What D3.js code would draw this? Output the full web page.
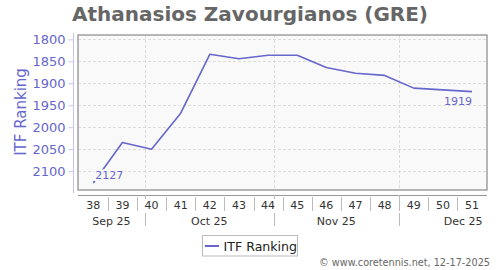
<!DOCTYPE html>
<html>
<head>
<meta charset="utf-8">
<script src="https://cdn.jsdelivr.net/npm/d3@7"></script>
<style>
  html, body { margin: 0; padding: 0; background: #fff; }
  svg { display: block; font-family: "DejaVu Sans", Verdana, sans-serif; }
</style>
</head>
<body>
<svg id="chart" width="500" height="270"></svg>
<script>
const title = "Athanasios Zavourgianos (GRE)";
const seriesName = "ITF Ranking";
const weeks = [38, 39, 40, 41, 42, 43, 44, 45, 46, 47, 48, 49, 50, 51];
const ranks = [2127, 2035, 2050, 1968, 1834, 1844, 1836, 1836, 1864, 1877, 1882, 1911, 1915, 1919];
const yTicks = [1800, 1850, 1900, 1950, 2000, 2050, 2100];
const yDomain = [1790, 2143];
const months = ["2025-09-01", "2025-10-01", "2025-11-01", "2025-12-01", "2026-01-01"];
const monthLabels = ["Sep 25", "Oct 25", "Nov 25", "Dec 25"];
const credit = "\u00a9 www.coretennis.net, 12-17-2025";
const year = 2025;

const blue = "#6666cc";
const svg = d3.select("#chart");

// ISO week -> point date (Thursday of ISO week, mid-afternoon)
const parse = d3.utcParse("%Y-%m-%d");
const thu1 = new Date(Date.UTC(year, 0, 2, 15));
const weekDate = w => d3.utcDay.offset(thu1, 7 * (w - 1));
const data = weeks.map((w, i) => ({ w, d: weekDate(w), v: ranks[i] }));
const monthDates = months.map(parse);

const plot = { left: 78, right: 487, top: 35, bottom: 190 };
const halfWeek = 3.5 * 864e5;
const x = d3.scaleUtc()
  .domain([new Date(+data[0].d - halfWeek), new Date(+data[data.length - 1].d + halfWeek)])
  .range([plot.left + 0.7, plot.right - 0.4]);
const y = d3.scaleLinear().domain(yDomain).range([plot.top, plot.bottom]);

// title
svg.append("text").attr("x", 250).attr("y", 21).attr("text-anchor", "middle")
  .attr("font-size", 20).attr("font-weight", "bold").attr("fill", "#666")
  .text(title);

// plot background
svg.append("rect").attr("x", plot.left).attr("y", plot.top)
  .attr("width", plot.right - plot.left).attr("height", plot.bottom - plot.top)
  .attr("fill", "#f9f9f9");

// horizontal grid
svg.append("g").selectAll("line").data(yTicks).join("line")
  .attr("x1", plot.left).attr("x2", plot.right)
  .attr("y1", d => Math.round(y(d)) + 0.5).attr("y2", d => Math.round(y(d)) + 0.5)
  .attr("stroke", "#dcdcdc").attr("stroke-dasharray", "3,2");

// vertical grid at month starts
const [d0, d1] = x.domain();
const innerMonths = monthDates.filter(d => d > d0 && d < d1);
svg.append("g").selectAll("line").data(innerMonths).join("line")
  .attr("x1", d => Math.round(x(d)) + 0.5).attr("x2", d => Math.round(x(d)) + 0.5)
  .attr("y1", plot.top).attr("y2", plot.bottom)
  .attr("stroke", "#dcdcdc").attr("stroke-dasharray", "3,2");

// plot border
svg.append("rect").attr("x", plot.left).attr("y", plot.top)
  .attr("width", plot.right - plot.left).attr("height", plot.bottom - plot.top)
  .attr("fill", "none").attr("stroke", "#888").attr("stroke-width", 1.2);

// y axis
const yAxis = d3.axisLeft(y).tickValues(yTicks).tickSize(5).tickPadding(3).tickFormat(d3.format("d"));
const gy = svg.append("g").attr("transform", "translate(73.5,0)").call(yAxis);
gy.select(".domain").attr("stroke", "#c4c4ec").attr("d", `M0,${plot.top - 2}V${plot.bottom + 3}`);
gy.selectAll(".tick line").attr("stroke", "#c4c4ec");
gy.selectAll(".tick text").attr("fill", blue).attr("font-size", 13)
  .attr("font-family", "DejaVu Sans, sans-serif");

svg.append("text").attr("transform", "translate(26,112) rotate(-90)")
  .attr("text-anchor", "middle").attr("font-size", 15).attr("fill", blue)
  .text(seriesName);

// x axis line
svg.append("line").attr("x1", plot.left).attr("x2", plot.right)
  .attr("y1", 195.5).attr("y2", 195.5).attr("stroke", "#999").attr("stroke-width", 1);

// week labels
const gx = svg.append("g");
gx.selectAll("text.wk").data(data).join("text").attr("class", "wk")
  .attr("x", d => x(d.d)).attr("y", 208.5).attr("text-anchor", "middle")
  .attr("font-size", 11).attr("fill", "#333").text(d => d.w);
// week separators
const seps = data.slice(1).map((d, i) => new Date((+d.d + +data[i].d) / 2));
gx.selectAll("line.sep").data(seps).join("line").attr("class", "sep")
  .attr("x1", d => Math.round(x(d)) + 0.5).attr("x2", d => Math.round(x(d)) + 0.5)
  .attr("y1", 197).attr("y2", 211).attr("stroke", "#bbb");
// month ticks and separators
gx.selectAll("line.mt").data(innerMonths).join("line").attr("class", "mt")
  .attr("x1", d => Math.round(x(d)) + 0.5).attr("x2", d => Math.round(x(d)) + 0.5)
  .attr("y1", 195).attr("y2", 199).attr("stroke", "#bbb");
gx.selectAll("line.ms").data(innerMonths).join("line").attr("class", "ms")
  .attr("x1", d => Math.round(x(d)) + 0.5).attr("x2", d => Math.round(x(d)) + 0.5)
  .attr("y1", 213).attr("y2", 226).attr("stroke", "#bbb");
// month labels
const mInfo = monthLabels.map((lab, i) => {
  const a = monthDates[i], b = monthDates[i + 1];
  const full = (x(a) + x(b)) / 2;
  const vis = (Math.max(x(a), plot.left) + Math.min(x(b), plot.right)) / 2;
  const halfW = 17;
  const c = (full - halfW >= plot.left && full + halfW <= plot.right) ? full : vis;
  return { lab, c };
});
gx.selectAll("text.mo").data(mInfo).join("text").attr("class", "mo")
  .attr("x", d => d.c).attr("y", 224.5).attr("text-anchor", "middle")
  .attr("font-size", 11).attr("fill", "#333").text(d => d.lab);

// line
const line = d3.line().x(d => x(d.d)).y(d => y(d.v));
svg.append("path").datum(data).attr("d", line)
  .attr("fill", "none").attr("stroke", blue).attr("stroke-width", 1.6)
  .attr("stroke-linejoin", "round");

// data labels (first and last)
const first = data[0], last = data[data.length - 1];
svg.append("text").attr("x", x(first.d) + 2).attr("y", y(first.v) - 4)
  .attr("font-size", 11).attr("fill", blue)
  .attr("stroke", "#f9f9f9").attr("stroke-width", 4).attr("paint-order", "stroke")
  .text(first.v);
svg.append("text").attr("x", x(last.d)).attr("y", y(last.v) + 13)
  .attr("text-anchor", "end").attr("font-size", 11).attr("fill", blue)
  .text(last.v);

// legend
const lg = svg.append("g");
lg.append("rect").attr("x", 202.5).attr("y", 235.5).attr("width", 95).attr("height", 20.5)
  .attr("fill", "#fff").attr("stroke", "#bbb");
lg.append("line").attr("x1", 205).attr("x2", 219).attr("y1", 246).attr("y2", 246)
  .attr("stroke", blue).attr("stroke-width", 2);
lg.append("text").attr("x", 223.5).attr("y", 250.5).attr("font-size", 12.6)
  .attr("fill", "#222").text(seriesName);

// credit
svg.append("text").attr("x", 490).attr("y", 266).attr("text-anchor", "end")
  .attr("font-size", 9.7).attr("fill", "#666").text(credit);
</script>
</body>
</html>
